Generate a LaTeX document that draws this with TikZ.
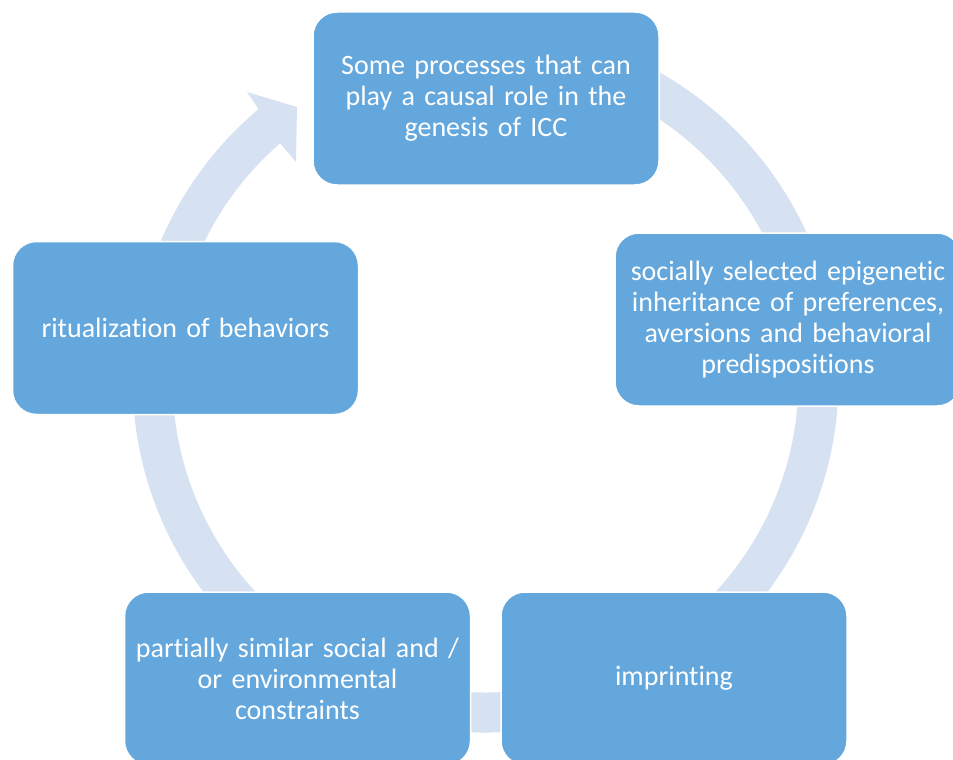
\documentclass[tikz,border=0pt]{standalone}
\usepackage{fontspec}
\setmainfont{Carlito}[Ligatures={NoCommon}]
\definecolor{boxblue}{RGB}{100,167,220}
\definecolor{ringblue}{RGB}{214,226,241}
\tikzset{
  cyclebox/.style={rectangle, rounded corners=24pt, fill=boxblue, draw=white,
    line width=1.5pt, minimum width=346pt, minimum height=173pt,
    text width=330pt, align=center, text=white, inner sep=0pt,
    font=\fontsize{28pt}{31pt}\selectfont},
  ringfill/.style={fill=ringblue, draw=none}
}
\begin{document}
\begin{tikzpicture}[x=1pt,y=-1pt]
\useasboundingbox (0,0) rectangle (953,760);
\begin{scope}[shift={(485.5,379.5)}]
\fill[ringfill] (-100:353) arc[start angle=-100,end angle=230,radius=353]
  -- (-238.5,-287.5) -- (-188.5,-272.5) -- (-189.5,-217.5)
  -- (229:313) arc[start angle=229,end angle=-100,radius=313] -- cycle;
\end{scope}
\node[cyclebox] (top) at (486,98.5) {Some processes that can\\play a causal role in the\\genesis of ICC};
\node[cyclebox] (right) at (788,319.5) {socially selected epigenetic\\inheritance of preferences,\\aversions and behavioral\\predispositions};
\node[cyclebox] (bright) at (674,678.5) {imprinting};
\node[cyclebox] (bleft) at (297.5,678.5) {partially similar social and /\\or environmental\\constraints};
\node[cyclebox] (left) at (185.5,328) {ritualization of behaviors};
\end{tikzpicture}
\end{document}
